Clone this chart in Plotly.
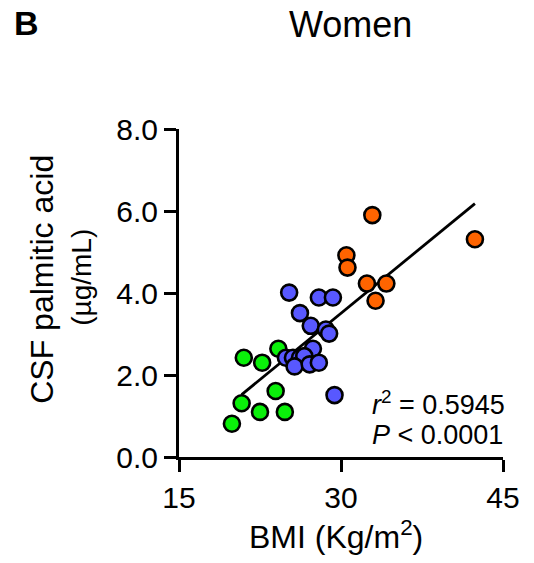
import plotly.graph_objects as go

# ---- data ----
green_x = [19.9, 20.8, 21.0, 22.5, 22.7, 23.95, 24.2, 24.8]
green_y = [0.81, 1.31, 2.42, 1.10, 2.30, 1.61, 2.64, 1.10]

blue_x = [25.2, 27.95, 29.25, 26.2, 27.2, 28.6, 28.9, 27.4, 24.9, 25.55, 26.2, 26.6, 25.7, 27.1, 27.95, 29.4]
blue_y = [4.01, 3.89, 3.89, 3.51, 3.20, 3.11, 3.01, 2.64, 2.42, 2.42, 2.42, 2.46, 2.21, 2.26, 2.30, 1.51]

orange_x = [32.9, 42.4, 30.5, 30.6, 32.4, 34.2, 33.2]
orange_y = [5.90, 5.31, 4.92, 4.62, 4.23, 4.23, 3.81]

fit_x = [20.8, 42.4]
fit_y = [1.52, 6.18]

x_ticks = [15, 30, 45]
y_ticks = [0, 2, 4, 6, 8]

# ---- layout geometry (reference pixels; page body adds an 8px offset) ----
OFF = 8
W, H = 534 - OFF, 563 - OFF
L, R, T, B = 179 - OFF, 503 - OFF, 129 - OFF, 457.5 - OFF
FONT = "Liberation Sans, Arial, Helvetica, sans-serif"


def px(x):
    return (x - OFF - L) / (R - L)


def py(y):
    return (B - (y - OFF)) / (B - T)


fig = go.Figure()
fig.add_trace(go.Scatter(x=fit_x, y=fit_y, mode="lines",
                         line=dict(color="black", width=2.8), showlegend=False,
                         hoverinfo="skip"))
marker_common = dict(size=16, line=dict(color="black", width=2.6))
fig.add_trace(go.Scatter(x=green_x, y=green_y, mode="markers",
                         marker=dict(color="#0AF00A", **marker_common), showlegend=False))
fig.add_trace(go.Scatter(x=blue_x, y=blue_y, mode="markers",
                         marker=dict(color="#5858FF", **marker_common), showlegend=False))
fig.add_trace(go.Scatter(x=orange_x, y=orange_y, mode="markers",
                         marker=dict(color="#FF6400", **marker_common), showlegend=False))

axis_common = dict(showline=True, linecolor="black", linewidth=3, ticks="outside",
                   ticklen=12, tickwidth=3, tickcolor="black", showgrid=False,
                   zeroline=False, mirror=False,
                   tickfont=dict(family=FONT, size=30, color="black"))

fig.update_xaxes(range=[15, 45], tickvals=x_ticks, ticktext=[str(v) for v in x_ticks],
                 **axis_common)
fig.update_yaxes(range=[0, 8], tickvals=y_ticks, ticktext=[f"{v:.1f}" for v in y_ticks],
                 **axis_common)

annotations = [
    dict(x=px(12), y=py(23), text="<b>B</b>", font=dict(size=34),
         xanchor="left", yanchor="middle"),
    dict(x=px(350), y=py(24), text="Women", font=dict(size=36),
         xanchor="center", yanchor="middle"),
    dict(x=px(336), y=py(558), text="BMI (Kg/m<sup>2</sup>)", font=dict(size=32),
         xanchor="center", yanchor="bottom"),
    dict(x=px(42), y=py(280), text="CSF palmitic acid", font=dict(size=32),
         textangle=-90, xanchor="center", yanchor="middle"),
    dict(x=px(82), y=py(278), text="(µg/mL)", font=dict(size=28),
         textangle=-90, xanchor="center", yanchor="middle"),
    dict(x=px(370), y=py(422), text="<i>r</i><sup>2</sup> = 0.5945", font=dict(size=27),
         xanchor="left", yanchor="bottom"),
    dict(x=px(370), y=py(452), text="<i>P</i> < 0.0001", font=dict(size=27),
         xanchor="left", yanchor="bottom"),
]
for a in annotations:
    a.update(xref="paper", yref="paper", showarrow=False)
    a["font"].update(family=FONT, color="black")
fig.update_layout(annotations=annotations)

fig.update_layout(width=W, height=H, margin=dict(l=L, r=W - R, t=T, b=H - B),
                  plot_bgcolor="white", paper_bgcolor="white",
                  font=dict(family=FONT, color="black"))

fig.write_html("out.html")
